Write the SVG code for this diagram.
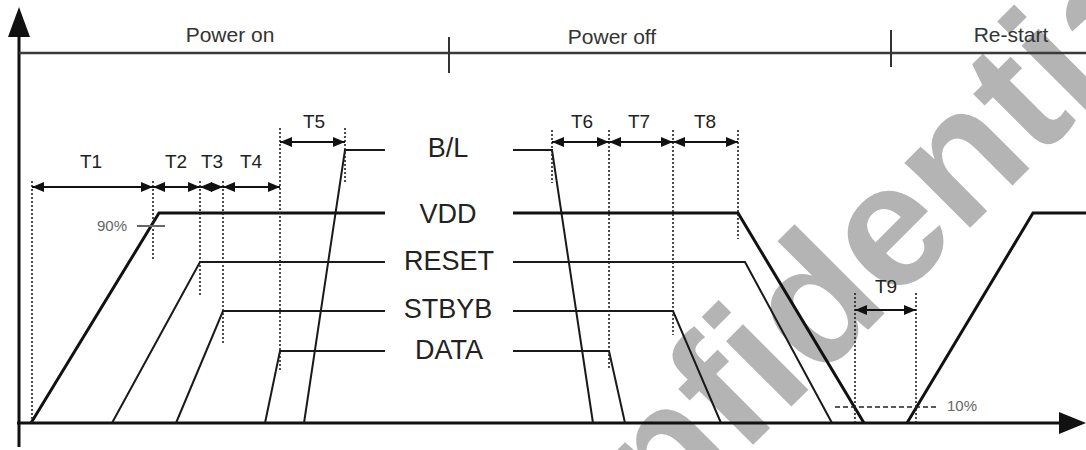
<svg xmlns="http://www.w3.org/2000/svg" width="1086" height="450" viewBox="0 0 1086 450">
<style>
.wm{font-family:"Liberation Sans",Arial,sans-serif;font-weight:bold;font-size:175px;fill:#b4b4b4}
.ph{font-family:"Liberation Sans",Arial,sans-serif;font-size:21px;fill:#333;text-anchor:middle}
.sig{font-family:"Liberation Sans",Arial,sans-serif;font-size:27px;fill:#222;text-anchor:middle}
.tl{font-family:"Liberation Sans",Arial,sans-serif;font-size:19px;fill:#222;text-anchor:middle}
.pc{font-family:"Liberation Sans",Arial,sans-serif;font-size:15px;fill:#666}
.thick{fill:none;stroke:#111;stroke-width:3;stroke-linejoin:miter}
.thin{fill:none;stroke:#1a1a1a;stroke-width:2}
.dot{fill:none;stroke:#222;stroke-width:1.6;stroke-dasharray:2 2}
.dash{fill:none;stroke:#222;stroke-width:1.5;stroke-dasharray:5 3}
.arr{fill:none;stroke:#111;stroke-width:1.8;marker-start:url(#ah);marker-end:url(#ah)}
</style>
<defs>
<marker id="ah" markerUnits="userSpaceOnUse" markerWidth="12" markerHeight="10" refX="12" refY="5" orient="auto-start-reverse">
<path d="M0,0 L12,5 L0,10 z" fill="#111"/>
</marker>
</defs>
<rect width="1086" height="450" fill="#fff"/>
<text class="wm" x="501" y="697" transform="rotate(-45 501 697)">Confidential</text>

<g id="axes">
<line x1="19" y1="447" x2="19" y2="34" stroke="#111" stroke-width="3"/>
<polygon points="19,7 8,37 30,37" fill="#111"/>
<line x1="17" y1="423" x2="1062" y2="423" stroke="#111" stroke-width="3"/>
<polygon points="1086,423 1059,412 1059,434" fill="#111"/>
</g>

<g id="phases">
<line x1="19" y1="53" x2="1086" y2="53" stroke="#3a3a3a" stroke-width="2.5"/>
<line x1="449" y1="37" x2="449" y2="73" stroke="#333" stroke-width="2"/>
<line x1="891" y1="30" x2="891" y2="67" stroke="#333" stroke-width="2"/>
<text class="ph" x="230" y="42">Power on</text>
<text class="ph" x="612" y="44">Power off</text>
<text class="ph" x="1011" y="42">Re-start</text>
</g>

<g id="sig-bl">
<text class="sig" x="448" y="157">B/L</text>
<polyline class="thin" points="304,423 345,150 385,150"/>
<polyline class="thin" points="513,150 552,150 593,423"/>
</g>
<g id="sig-vdd">
<text class="sig" x="448" y="223">VDD</text>
<polyline class="thick" points="31,423 159,213 385,213"/>
<polyline class="thick" points="513,213 738,213 864,423"/>
<polyline class="thick" points="907,423 1033,213 1086,213"/>
</g>
<g id="sig-reset">
<text class="sig" x="449" y="270">RESET</text>
<polyline class="thin" points="112,423 200,262 385,262"/>
<polyline class="thin" points="513,262 745,262 832,423"/>
</g>
<g id="sig-stbyb">
<text class="sig" x="448" y="318">STBYB</text>
<polyline class="thin" points="176,423 223,311 385,311"/>
<polyline class="thin" points="513,311 673,311 721,423"/>
</g>
<g id="sig-data">
<text class="sig" x="449" y="359">DATA</text>
<polyline class="thin" points="265,423 280,351 385,351"/>
<polyline class="thin" points="513,351 609,351 625,423"/>
</g>

<g id="guides">
<line class="dot" x1="32" y1="181" x2="32" y2="423"/>
<line class="dot" x1="153" y1="181" x2="153" y2="261"/>
<line class="dot" x1="200" y1="181" x2="200" y2="297"/>
<line class="dot" x1="223" y1="181" x2="223" y2="343"/>
<line class="dot" x1="280" y1="128" x2="280" y2="372"/>
<line class="dot" x1="345" y1="128" x2="345" y2="183"/>
<line class="dot" x1="552" y1="130" x2="552" y2="183"/>
<line class="dot" x1="609" y1="130" x2="609" y2="370"/>
<line class="dot" x1="673" y1="130" x2="673" y2="335"/>
<line class="dot" x1="738" y1="130" x2="738" y2="239"/>
<line class="dot" x1="855" y1="293" x2="855" y2="423"/>
<line class="dot" x1="916" y1="293" x2="916" y2="423"/>
<line class="dash" x1="835" y1="407" x2="938" y2="407"/>
<line x1="137" y1="226" x2="165" y2="226" stroke="#666" stroke-width="2"/>
<text class="pc" x="97" y="231">90%</text>
<text class="pc" x="947" y="411">10%</text>
</g>

<g id="connectors">
<line class="arr" x1="32" y1="187" x2="153" y2="187"/>
<line class="arr" x1="153" y1="187" x2="200" y2="187"/>
<line class="arr" x1="200" y1="187" x2="223" y2="187"/>
<line class="arr" x1="223" y1="187" x2="280" y2="187"/>
<line class="arr" x1="280" y1="142" x2="345" y2="142"/>
<line class="arr" x1="552" y1="142" x2="609" y2="142"/>
<line class="arr" x1="609" y1="142" x2="673" y2="142"/>
<line class="arr" x1="673" y1="142" x2="738" y2="142"/>
<line class="arr" x1="855" y1="310" x2="916" y2="310"/>
</g>

<g id="labels">
<text class="tl" x="91" y="168">T1</text>
<text class="tl" x="176" y="168">T2</text>
<text class="tl" x="212" y="168">T3</text>
<text class="tl" x="251" y="168">T4</text>
<text class="tl" x="314" y="128">T5</text>
<text class="tl" x="582" y="128">T6</text>
<text class="tl" x="639" y="128">T7</text>
<text class="tl" x="705" y="128">T8</text>
<text class="tl" x="886" y="293">T9</text>
</g>
</svg>
